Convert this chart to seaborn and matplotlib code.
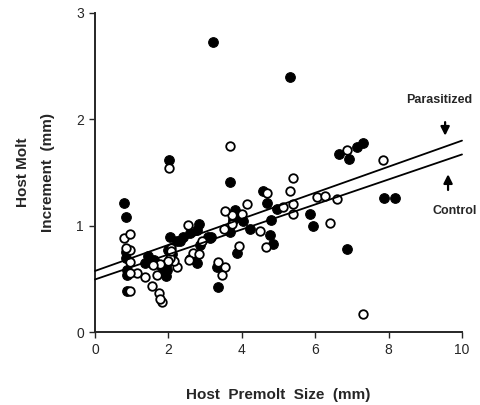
import matplotlib.pyplot as plt
import pandas as pd
import seaborn as sns

# Parasitized hosts (filled circles)
parasitized_x = [3.21, 5.31, 2.02, 0.80, 0.84, 3.68, 6.66, 6.93, 7.13, 7.31,
                 6.86, 7.88, 8.18, 4.57, 4.68, 5.86, 5.93, 4.79, 4.77, 4.84,
                 3.36, 3.88, 3.68, 3.81, 3.91, 4.02, 4.22, 4.95, 3.15, 2.82,
                 2.77, 2.59, 2.41, 2.24, 2.04, 2.00, 1.97, 1.95, 1.93, 1.80,
                 1.87, 1.45, 1.36, 0.86, 0.88, 0.85, 0.84, 2.59, 2.77, 3.32,
                 2.86, 0.86, 2.32, 3.09, 2.70, 2.10, 1.60, 3.75, 3.13]
parasitized_y = [2.73, 2.40, 1.62, 1.21, 1.08, 1.41, 1.67, 1.63, 1.74, 1.78,
                 0.78, 1.26, 1.26, 1.33, 1.21, 1.11, 1.00, 1.05, 0.91, 0.83,
                 0.42, 0.74, 0.94, 1.15, 1.08, 1.04, 0.97, 1.16, 0.89, 1.02,
                 0.96, 0.93, 0.89, 0.86, 0.89, 0.77, 0.65, 0.58, 0.53, 0.62,
                 0.57, 0.72, 0.65, 0.54, 0.39, 0.70, 0.75, 0.69, 0.65, 0.61,
                 0.82, 0.58, 0.86, 0.89, 0.72, 0.73, 0.68, 1.05, 0.88]

# Control hosts (open circles)
control_x = [3.68, 2.02, 6.86, 7.86, 5.39, 5.30, 4.68, 5.11, 5.40, 5.39,
             6.04, 6.27, 6.59, 6.40, 7.29, 4.13, 4.00, 3.72, 3.54, 3.52,
             4.50, 3.93, 4.66, 2.53, 2.91, 2.66, 2.82, 2.55, 3.36, 3.54,
             3.45, 2.23, 2.15, 2.05, 2.08, 2.06, 2.00, 1.77, 1.68, 1.54,
             1.73, 1.82, 1.77, 1.59, 1.36, 1.14, 0.94, 0.94, 0.94, 0.80,
             0.94, 0.95, 0.85, 3.72]
control_y = [1.75, 1.54, 1.71, 1.62, 1.45, 1.33, 1.31, 1.18, 1.20, 1.11,
             1.27, 1.28, 1.25, 1.03, 0.17, 1.20, 1.11, 1.10, 1.14, 0.97,
             0.95, 0.81, 0.80, 1.01, 0.86, 0.74, 0.73, 0.68, 0.66, 0.61,
             0.54, 0.61, 0.67, 0.70, 0.79, 0.76, 0.67, 0.64, 0.54, 0.43,
             0.37, 0.28, 0.31, 0.63, 0.52, 0.56, 0.39, 0.66, 0.56, 0.88,
             0.92, 0.77, 0.79, 1.02]

# Fitted lines (intercept, slope)
line_x = [0, 10]
parasitized_fit = (0.575, 0.1225)
control_fit = (0.495, 0.1175)

x_ticks = [0, 2, 4, 6, 8, 10]
y_ticks = [0, 1, 2, 3]

sns.set_style("ticks")
plt.rcParams["font.family"] = ["Liberation Sans", "DejaVu Sans"]

fig = plt.figure(figsize=(4.8, 4.05), dpi=100)
ax = fig.add_axes([0.198, 0.180, 0.7645, 0.788])

par_df = pd.DataFrame({"size": parasitized_x, "increment": parasitized_y})
con_df = pd.DataFrame({"size": control_x, "increment": control_y})

sns.scatterplot(data=par_df, x="size", y="increment", ax=ax, s=48,
                color="black", edgecolor="black", linewidth=0.8, zorder=3)
sns.scatterplot(data=con_df, x="size", y="increment", ax=ax, s=38,
                color="white", edgecolor="black", linewidth=1.3, zorder=4)

for b0, b1 in (parasitized_fit, control_fit):
    ys = [b0 + b1 * x for x in line_x]
    sns.lineplot(x=line_x, y=ys, ax=ax, color="black", linewidth=1.3,
                 zorder=5, clip_on=False)

ax.set_xlim(0, 10)
ax.set_ylim(0, 3)
ax.set_xticks(x_ticks)
ax.set_yticks(y_ticks)
ax.tick_params(axis="both", labelsize=10, length=4, width=1.0, pad=4)
sns.despine(ax=ax)
for sp in ("left", "bottom"):
    ax.spines[sp].set_linewidth(1.4)

ax.set_xlabel("Host  Premolt  Size  (mm)", fontsize=11, weight="bold",
              labelpad=22)
ax.set_ylabel("Host Molt\nIncrement  (mm)", fontsize=11, weight="bold",
              labelpad=15, linespacing=2.0)

# Line labels with arrows
ax.annotate("", xy=(9.54, 1.82), xytext=(9.54, 2.00),
            arrowprops=dict(arrowstyle="-|>", color="black", lw=1.6,
                            mutation_scale=13), annotation_clip=False)
ax.text(9.37, 2.18, "Parasitized", fontsize=9, weight="bold",
        ha="center", va="center", clip_on=False)
ax.annotate("", xy=(9.62, 1.51), xytext=(9.62, 1.31),
            arrowprops=dict(arrowstyle="-|>", color="black", lw=1.6,
                            mutation_scale=13), annotation_clip=False)
ax.text(9.81, 1.14, "Control", fontsize=9, weight="bold",
        ha="center", va="center", clip_on=False)

fig.savefig("out.png", dpi=100)
